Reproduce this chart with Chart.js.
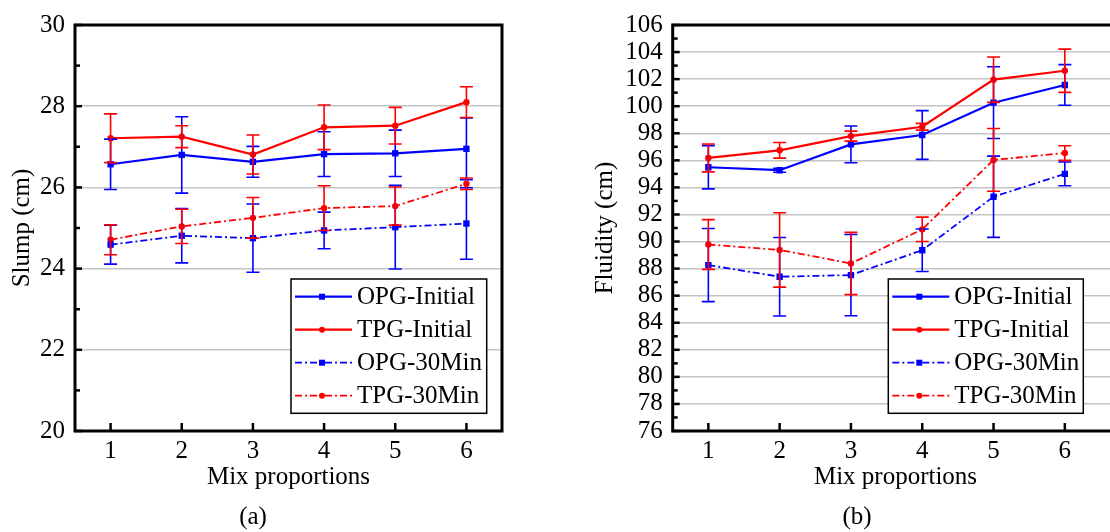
<!DOCTYPE html>
<html>
<head>
<meta charset="utf-8">
<script src="https://cdn.jsdelivr.net/npm/chart.js@4.4.0/dist/chart.umd.min.js"></script>
<style>
  body { margin: 0; width: 1110px; height: 532px; overflow: hidden; background: #fff; position: relative; }
  #wrapA { position: absolute; left: 0; top: 0; width: 540px; height: 532px; }
  #wrapB { position: absolute; left: 555px; top: 0; width: 580px; height: 532px; }
  .cap { position: absolute; top: 502px; width: 100px; text-align: center; font: 25px "Liberation Serif"; line-height: 28px; color: #000; }
</style>
</head>
<body>
<div id="wrapA"><canvas id="slumpChart" width="540" height="532"></canvas></div>
<div id="wrapB"><canvas id="fluidChart" width="580" height="532"></canvas></div>
<div class="cap" style="left:203px">(a)</div>
<div class="cap" style="left:807px">(b)</div>
<script>
const mixLabels = [1, 2, 3, 4, 5, 6];

// (a) slump, cm
const slumpOpgInit = [26.57, 26.80, 26.63, 26.82, 26.84, 26.95];
const slumpOpgInitErr = [0.62, 0.94, 0.38, 0.55, 0.57, 0.76];
const slumpTpgInit = [27.21, 27.25, 26.81, 27.48, 27.52, 28.10];
const slumpTpgInitErr = [0.60, 0.27, 0.48, 0.55, 0.45, 0.38];
const slumpOpg30 = [24.59, 24.81, 24.75, 24.94, 25.02, 25.11];
const slumpOpg30Err = [0.48, 0.67, 0.84, 0.45, 1.03, 0.88];
const slumpTpg30 = [24.71, 25.04, 25.25, 25.49, 25.54, 26.09];
const slumpTpg30Err = [0.37, 0.42, 0.50, 0.55, 0.47, 0.14];

// (b) fluidity, cm
const fluidOpgInit = [95.49, 95.27, 97.18, 97.87, 100.26, 101.57];
const fluidOpgInitErr = [1.6, 0.15, 1.36, 1.8, 2.65, 1.5];
const fluidTpgInit = [96.18, 96.74, 97.79, 98.48, 101.96, 102.62];
const fluidTpgInitErr = [1.03, 0.58, 0.37, 0.25, 1.68, 1.6];
const fluidOpg30 = [88.26, 87.40, 87.52, 89.36, 93.31, 95.0];
const fluidOpg30Err = [2.7, 2.9, 3.0, 1.57, 3.0, 0.88];
const fluidTpg30 = [89.78, 89.38, 88.38, 90.9, 96.03, 96.54];
const fluidTpg30Err = [1.84, 2.75, 2.3, 0.9, 2.32, 0.54];

const seriesNames = ["OPG-Initial", "TPG-Initial", "OPG-30Min", "TPG-30Min"];

const FONT = "Liberation Serif";
const FSIZE = 25;
const BLUE = "#0000ff";
const RED = "#ff0000";
const DASHDOT = [7, 3, 2, 3];

function makeDataset(label, values, errors, color, dashed, square) {
  return {
    label,
    data: values.map((v, i) => ({ x: mixLabels[i], y: v })),
    errors,
    borderColor: color,
    backgroundColor: color,
    borderWidth: dashed ? 1.8 : 2.2,
    borderDash: dashed ? DASHDOT : [],
    pointStyle: square ? "rect" : "circle",
    pointRadius: square ? 4.5 : 3.2,
    pointBorderWidth: 0,
    tension: 0,
  };
}

// error bars drawn through the chart's own scales
const errorBars = {
  id: "errorBars",
  afterDatasetsDraw(chart) {
    const { ctx, scales: { x, y } } = chart;
    ctx.save();
    ctx.lineWidth = 1.6;
    chart.data.datasets.forEach((ds) => {
      ctx.strokeStyle = ds.borderColor;
      ds.data.forEach((p, i) => {
        const e = ds.errors[i];
        const px = x.getPixelForValue(p.x);
        const top = y.getPixelForValue(p.y + e);
        const bot = y.getPixelForValue(p.y - e);
        ctx.beginPath();
        ctx.moveTo(px, top); ctx.lineTo(px, bot);
        ctx.moveTo(px - 6.5, top); ctx.lineTo(px + 6.5, top);
        ctx.moveTo(px - 6.5, bot); ctx.lineTo(px + 6.5, bot);
        ctx.stroke();
      });
    });
    ctx.restore();
  },
};

// black frame and inward ticks
const frameTicks = {
  id: "frameTicks",
  afterDraw(chart) {
    const { ctx, chartArea: a, scales: { x, y } } = chart;
    ctx.save();
    ctx.strokeStyle = "#000";
    ctx.lineWidth = 2.5;
    for (let v = y.min; v <= y.max; v++) {
      const py = y.getPixelForValue(v);
      const len = (v - y.min) % 2 === 0 ? 7 : 5;
      ctx.beginPath();
      ctx.moveTo(a.left, py);
      ctx.lineTo(a.left + len, py);
      ctx.stroke();
    }
    mixLabels.forEach((m) => {
      const px = x.getPixelForValue(m);
      ctx.beginPath();
      ctx.moveTo(px, a.bottom);
      ctx.lineTo(px, a.bottom - 8);
      ctx.stroke();
    });
    ctx.lineWidth = 3;
    ctx.strokeRect(a.left, a.top, a.right - a.left, a.bottom - a.top);
    ctx.restore();
  },
};

// boxed legend inside the plot
const boxLegend = {
  id: "boxLegend",
  afterDraw(chart, args, opts) {
    const { ctx } = chart;
    const { x, y, w, h } = opts;
    ctx.save();
    ctx.fillStyle = "#fff";
    ctx.fillRect(x, y, w, h);
    ctx.lineWidth = 1.5;
    ctx.strokeStyle = "#000";
    ctx.strokeRect(x, y, w, h);
    chart.data.datasets.forEach((ds, i) => {
      const cy = y + 17.7 + i * 33;
      ctx.strokeStyle = ds.borderColor;
      ctx.lineWidth = ds.borderWidth;
      ctx.setLineDash(ds.borderDash);
      ctx.beginPath();
      ctx.moveTo(x + 4, cy);
      ctx.lineTo(x + 61, cy);
      ctx.stroke();
      ctx.setLineDash([]);
      ctx.fillStyle = ds.borderColor;
      if (ds.pointStyle === "rect") {
        ctx.fillRect(x + 31 - 3, cy - 3, 6, 6);
      } else {
        ctx.beginPath();
        ctx.arc(x + 31, cy, 3, 0, Math.PI * 2);
        ctx.fill();
      }
      ctx.fillStyle = "#000";
      ctx.font = `${FSIZE}px "${FONT}"`;
      ctx.textBaseline = "middle";
      ctx.fillText(ds.label, x + 66, cy + 1);
    });
    ctx.restore();
  },
};

function buildChart(canvasId, sets, yMin, yMax, yTitle, xMax, yWidth, titlePad, padRight, legendBox) {
  return new Chart(document.getElementById(canvasId), {
    type: "line",
    data: {
      datasets: [
        makeDataset(seriesNames[0], sets[0], sets[1], BLUE, false, true),
        makeDataset(seriesNames[1], sets[2], sets[3], RED, false, false),
        makeDataset(seriesNames[2], sets[4], sets[5], BLUE, true, true),
        makeDataset(seriesNames[3], sets[6], sets[7], RED, true, false),
      ],
    },
    options: {
      responsive: false,
      animation: false,
      layout: { padding: { top: 22.7, right: padRight, bottom: 40, left: 0 } },
      plugins: {
        legend: { display: false },
        tooltip: { enabled: false },
        boxLegend: legendBox,
      },
      scales: {
        x: {
          type: "linear",
          min: 0.5,
          max: xMax,
          afterBuildTicks: (s) => { s.ticks = mixLabels.map((v) => ({ value: v })); },
          afterFit: (s) => { s.height = 61; },
          grid: { display: false, drawTicks: false },
          border: { display: false },
          ticks: { color: "#000", padding: 5, font: { family: FONT, size: FSIZE } },
          title: { display: true, text: "Mix proportions", color: "#000", padding: 0, font: { family: FONT, size: FSIZE } },
        },
        y: {
          min: yMin,
          max: yMax,
          afterFit: (s) => { s.width = yWidth; },
          grid: { color: "#c4c4c4", lineWidth: 1.5, drawTicks: false },
          border: { display: false },
          ticks: { stepSize: 2, autoSkip: false, color: "#000", padding: 10, font: { family: FONT, size: FSIZE } },
          title: { display: true, text: yTitle, color: "#000", padding: { top: titlePad }, font: { family: FONT, size: FSIZE } },
        },
      },
    },
    plugins: [errorBars, frameTicks, boxLegend],
  });
}

buildChart("slumpChart",
  [slumpOpgInit, slumpOpgInitErr, slumpTpgInit, slumpTpgInitErr, slumpOpg30, slumpOpg30Err, slumpTpg30, slumpTpg30Err],
  20, 30, "Slump (cm)", 6.5, 75, 7, 38,
  { x: 291, y: 279, w: 195.7, h: 134.3 });

buildChart("fluidChart",
  [fluidOpgInit, fluidOpgInitErr, fluidTpgInit, fluidTpgInitErr, fluidOpg30, fluidOpg30Err, fluidTpg30, fluidTpg30Err],
  76, 106, "Fluidity (cm)", 6.75, 117.7, 35, 16.7,
  { x: 333.3, y: 279, w: 195, h: 134.3 });
</script>
</body>
</html>
